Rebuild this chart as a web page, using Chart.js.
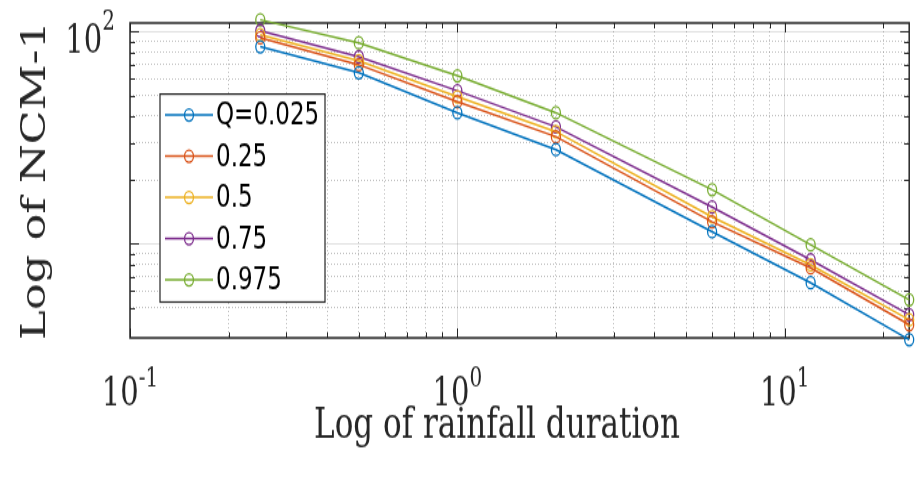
<!DOCTYPE html>
<html><head><meta charset="utf-8">
<script src="https://cdn.jsdelivr.net/npm/chart.js@4"></script>
<style>html,body{margin:0;padding:0;background:#fff;overflow:hidden}
canvas{display:block}</style>
</head><body>
<canvas id="c" width="915" height="353" style="width:915px;height:477px"></canvas>
<script>
// ---- data ----
const durations = [0.25, 0.5, 1, 2, 6, 12, 24];
const seriesLabels = ['Q=0.025', '0.25', '0.5', '0.75', '0.975'];
const q0025 = [85.0, 64.1, 41.5, 27.8, 11.4, 6.55, 3.53];
const q025  = [93.7, 69.9, 46.8, 32.0, 12.7, 7.70, 4.15];
const q05   = [96.8, 73.0, 49.4, 33.8, 13.4, 7.96, 4.38];
const q075  = [101.1, 76.2, 52.7, 35.6, 14.9, 8.40, 4.63];
const q0975 = [113.9, 88.7, 62.0, 41.5, 18.0, 9.89, 5.44];
const xTickValues = [0.1, 1, 10];
const xTickExponents = ['-1', '0', '1'];
const yTickValues = [100];
const yTickExponents = ['2'];
const xTitle = 'Log of rainfall duration';
const yTitle = 'Log of NCM-1';

const seriesValues = [q0025, q025, q05, q075, q0975];
const seriesColors = ['#0072BD', '#D95319', '#EDB120', '#7E2F8E', '#77AC30'];
const AX = '#262626';

function isMajor(v) {
  if (!v) return false;
  const l = Math.log10(v);
  return Math.abs(l - Math.round(l)) < 1e-9;
}
function keepDecadeTicks(scale) {
  scale.ticks = scale.ticks.filter(t => {
    const m = t.value / Math.pow(10, Math.floor(Math.log10(t.value) + 1e-12));
    return Math.abs(m - Math.round(m)) < 1e-6 && Math.round(m) >= 1 && Math.round(m) <= 9;
  });
}

const boxPlugin = {
  id: 'matlabBox',
  beforeDatasetsDraw(chart) {
    const {ctx, chartArea: a} = chart;
    const xs = chart.scales.x, ys = chart.scales.y;
    ctx.save();
    ctx.strokeStyle = AX; ctx.lineWidth = 1;
    ctx.beginPath();
    xs.ticks.forEach(t => {
      const p = Math.round(xs.getPixelForValue(t.value)) + 0.5;
      const L = isMajor(t.value) ? 7 : 4;
      ctx.moveTo(p, a.top); ctx.lineTo(p, a.top + L);
      ctx.moveTo(p, a.bottom); ctx.lineTo(p, a.bottom - L);
    });
    ys.ticks.forEach(t => {
      const p = Math.round(ys.getPixelForValue(t.value)) + 0.5;
      const L = isMajor(t.value) ? 9 : 5;
      ctx.moveTo(a.left, p); ctx.lineTo(a.left + L, p);
      ctx.moveTo(a.right, p); ctx.lineTo(a.right - L, p);
    });
    ctx.stroke();
    ctx.lineWidth = 1.5;
    ctx.strokeRect(a.left, a.top, a.right - a.left, a.bottom - a.top);
    ctx.restore();
  }
};

const tickLabelPlugin = {
  id: 'powerTicks',
  afterDraw(chart) {
    const {ctx, chartArea: a} = chart;
    const xs = chart.scales.x, ys = chart.scales.y;
    const baseFont = '29px "DejaVu Serif"', expFont = '20px "DejaVu Serif"';
    ctx.save();
    ctx.fillStyle = AX; ctx.textBaseline = 'alphabetic'; ctx.textAlign = 'left';
    xTickValues.forEach((v, i) => {
      const px = xs.getPixelForValue(v);
      ctx.font = baseFont; const wb = ctx.measureText('10').width;
      ctx.font = expFont; const we = ctx.measureText(xTickExponents[i]).width;
      const x0 = px - (wb + we) / 2;
      ctx.font = baseFont; ctx.fillText('10', x0, a.bottom + 50);
      ctx.font = expFont; ctx.fillText(xTickExponents[i], x0 + wb, a.bottom + 36);
    });
    yTickValues.forEach((v, i) => {
      const py = ys.getPixelForValue(v);
      ctx.font = baseFont; const wb = ctx.measureText('10').width;
      ctx.font = expFont; const we = ctx.measureText(yTickExponents[i]).width;
      const x0 = a.left - 15 - (wb + we);
      ctx.font = baseFont; ctx.fillText('10', x0, py + 15.5);
      ctx.font = expFont; ctx.fillText(yTickExponents[i], x0 + wb, py - 1.5);
    });
    // x-axis label (MATLAB places it slightly left of the cropped axes centre)
    ctx.font = '31px "DejaVu Serif"';
    ctx.textAlign = 'center';
    ctx.fillText(xTitle, 497, a.bottom + 74);
    ctx.restore();
  }
};

const legendPlugin = {
  id: 'boxLegend',
  afterDraw(chart) {
    const ctx = chart.ctx;
    const L = 160, T = 69.6, R = 325, B = 223.5;
    ctx.save();
    ctx.fillStyle = '#fff';
    ctx.fillRect(L, T, R - L, B - T);
    ctx.strokeStyle = AX; ctx.lineWidth = 1.2;
    ctx.strokeRect(L, T, R - L, B - T);
    ctx.font = '23px "DejaVu Sans"';
    ctx.textBaseline = 'middle'; ctx.textAlign = 'left';
    chart.data.datasets.forEach((ds, i) => {
      const y = T + 15.5 + i * 30.5;
      ctx.strokeStyle = ds.borderColor; ctx.lineWidth = 1.5;
      ctx.beginPath(); ctx.moveTo(165, y); ctx.lineTo(213, y); ctx.stroke();
      ctx.lineWidth = 1.3;
      ctx.beginPath(); ctx.arc(189, y, 4.5, 0, Math.PI * 2); ctx.stroke();
      ctx.fillStyle = '#000';
      ctx.fillText(ds.label, 216, y + 1);
    });
    ctx.restore();
  }
};

const gridOpts = {
  color: c => isMajor(c.tick && c.tick.value) ? 'rgba(0,0,0,0.13)' : 'rgba(0,0,0,0.25)',
  lineWidth: 1,
  drawTicks: false
};
const borderOpts = {
  display: false,
  dash: c => isMajor(c.tick && c.tick.value) ? [] : [1, 2]
};

new Chart(document.getElementById('c'), {
  type: 'line',
  data: {
    datasets: seriesValues.map((vals, i) => ({
      label: seriesLabels[i],
      data: durations.map((d, j) => ({x: d, y: vals[j]})),
      borderColor: seriesColors[i],
      backgroundColor: 'rgba(0,0,0,0)',
      pointBorderColor: seriesColors[i],
      pointBackgroundColor: 'rgba(0,0,0,0)',
      pointRadius: 4.5,
      pointBorderWidth: 1.3,
      borderWidth: 1.5,
      tension: 0,
      clip: false
    }))
  },
  options: {
    responsive: false,
    animation: false,
    devicePixelRatio: 1,
    layout: {padding: {top: 17, right: 4, left: 0, bottom: 0}},
    plugins: {legend: {display: false}, tooltip: {enabled: false}},
    scales: {
      x: {
        type: 'logarithmic', min: 0.1, max: 24,
        afterBuildTicks: keepDecadeTicks,
        afterFit: s => { s.height = 103; },
        ticks: {display: false},
        grid: gridOpts, border: borderOpts,
        title: {display: false, text: xTitle}
      },
      y: {
        type: 'logarithmic', min: 3.6, max: 110,
        afterBuildTicks: keepDecadeTicks,
        afterFit: s => { s.width = 130; },
        ticks: {display: false},
        grid: gridOpts, border: borderOpts,
        title: {display: true, text: yTitle, color: AX,
          font: {family: 'DejaVu Serif', size: 33}, padding: {top: 17, bottom: 0}}
      }
    }
  },
  plugins: [boxPlugin, tickLabelPlugin, legendPlugin]
});
</script>
</body></html>
